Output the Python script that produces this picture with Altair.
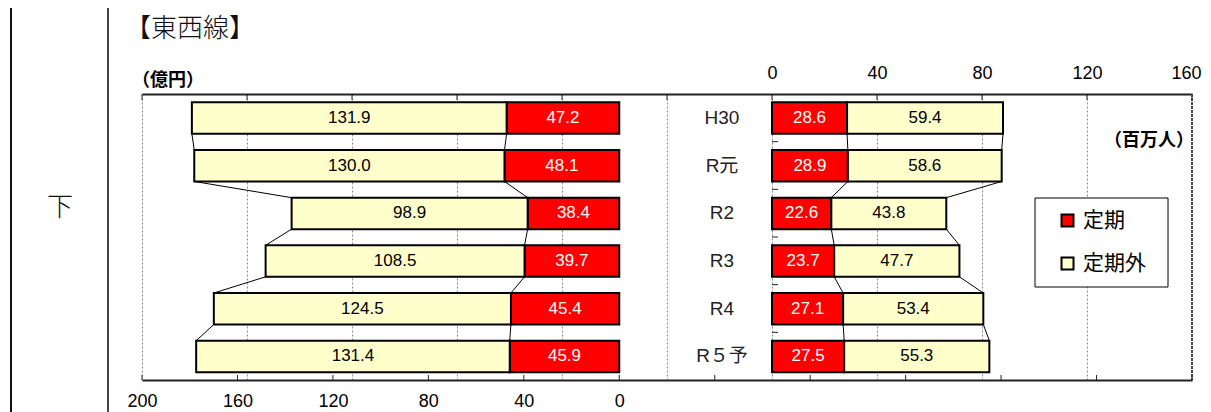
import altair as alt
import pandas as pd

# ---- data ----
years = ["H30", "R元", "R2", "R3", "R4", "R５予"]
rev_teiki = [47.2, 48.1, 38.4, 39.7, 45.4, 45.9]          # 億円 定期
rev_teikigai = [131.9, 130.0, 98.9, 108.5, 124.5, 131.4]  # 億円 定期外
pax_teiki = [28.6, 28.9, 22.6, 23.7, 27.1, 27.5]          # 百万人 定期
pax_teikigai = [59.4, 58.6, 43.8, 47.7, 53.4, 55.3]       # 百万人 定期外
series = ["定期", "定期外"]
colors = ["#FF0000", "#FFFFCC"]
left_ticks = list(range(-240, 201, 40))
right_ticks = list(range(-240, 161, 40))

BT, BB, BM = 0.175, 0.835, 0.505
NUMFONT = "Liberation Sans"
JPFONT = "Noto Sans CJK JP"

W, H = 1050, 286


def bar_df(teiki, gai):
    rows = []
    for i, (a, b) in enumerate(zip(teiki, gai)):
        rows.append(dict(i=i, type=series[0], x0=0, x1=a, xm=a / 2, label=f"{a:.1f}",
                         y0=i + BT, y1=i + BB, ym=i + BM, tc="white"))
        rows.append(dict(i=i, type=series[1], x0=a, x1=a + b, xm=a + b / 2, label=f"{b:.1f}",
                         y0=i + BT, y1=i + BB, ym=i + BM, tc="black"))
    return pd.DataFrame(rows)


def conn_df(teiki, gai):
    rows = []
    for i in range(len(teiki) - 1):
        for k in range(2):
            va = teiki[i] + (gai[i] if k else 0)
            vb = teiki[i + 1] + (gai[i + 1] if k else 0)
            rows.append(dict(xa=va, xb=vb, ya=i + BB, yb=i + 1 + BT))
    return pd.DataFrame(rows)


yscale = alt.Scale(domain=[0, 6], reverse=True, nice=False, zero=False)
cscale = alt.Scale(domain=series, range=colors)
legend = alt.Legend(
    orient="none", legendX=915, legendY=116, title=None, padding=0,
    symbolType="square", symbolSize=144, symbolStrokeColor="black", symbolStrokeWidth=2,
    labelFont=JPFONT, labelFontSize=21, labelColor="black", labelOffset=5, rowPadding=21,
)
label_expr = "datum.value >= 0 ? datum.label : ''"


def panel(teiki, gai, xscale, axis, tick_vals, tick_y0, tick_y1):
    bdf = bar_df(teiki, gai)
    bars = alt.Chart(bdf).mark_rect(stroke="black", strokeWidth=2).encode(
        x=alt.X("x0:Q", scale=xscale, axis=axis), x2="x1:Q",
        y=alt.Y("y0:Q", scale=yscale, axis=None), y2="y1:Q",
        fill=alt.Fill("type:N", scale=cscale, legend=legend),
    )
    text = alt.Chart(bdf).mark_text(font=NUMFONT, fontSize=17, baseline="middle").encode(
        x=alt.X("xm:Q", scale=xscale, axis=axis),
        y=alt.Y("ym:Q", scale=yscale, axis=None),
        text="label:N",
        color=alt.Color("tc:N", scale=None),
    )
    conn = alt.Chart(conn_df(teiki, gai)).mark_rule(color="black", strokeWidth=1).encode(
        x=alt.X("xa:Q", scale=xscale, axis=axis), x2="xb:Q",
        y=alt.Y("ya:Q", scale=yscale, axis=None), y2="yb:Q",
    )
    ticks = alt.Chart(pd.DataFrame({"v": tick_vals})).mark_rule(color="#222", strokeWidth=1).encode(
        x=alt.X("v:Q", scale=xscale, axis=axis),
        y=alt.value(tick_y0), y2=alt.value(tick_y1),
    )
    return [ticks, bars, conn, text]


lscale = alt.Scale(domain=[-240, 200], reverse=True, nice=False, zero=False)
rscale = alt.Scale(domain=[-240, 160], nice=False, zero=False)

laxis = alt.Axis(orient="bottom", values=left_ticks, labelExpr=label_expr, ticks=False, tickSize=0,
                 grid=False, domain=True, domainColor="#222", domainWidth=2, title=None,
                 labelFont=NUMFONT, labelFontSize=18, labelColor="black", labelPadding=12,
                 labelOverlap=False, labelFlush=False)
raxis = alt.Axis(orient="top", values=right_ticks, labelExpr=label_expr, ticks=False, tickSize=0,
                 grid=True, gridColor="#888888", gridDash=[2, 2], gridWidth=1,
                 domain=True, domainColor="#222", domainWidth=2, title=None,
                 labelFont=NUMFONT, labelFontSize=18, labelColor="black", labelPadding=12,
                 labelOverlap=False, labelFlush=True, labelFlushOffset=9)

left_layers = panel(rev_teiki, rev_teikigai, lscale, laxis, left_ticks, H - 5, H)
right_layers = panel(pax_teiki, pax_teikigai, rscale, raxis, right_ticks, 0, 6)

# right chart category axis ticks + labels
vt = alt.Chart(pd.DataFrame({"k": [1, 2, 3, 4, 5], "a": [0] * 5, "b": [2.3] * 5})).mark_rule(
    color="#222", strokeWidth=1).encode(
    x=alt.X("a:Q", scale=rscale, axis=raxis), x2="b:Q",
    y=alt.Y("k:Q", scale=yscale, axis=None),
)
border = alt.Chart(pd.DataFrame({"v": [160]})).mark_rule(color="#444", strokeWidth=2, strokeDash=[3, 1]).encode(
    x=alt.X("v:Q", scale=rscale, axis=raxis), y=alt.value(0), y2=alt.value(H),
)
cats = alt.Chart(pd.DataFrame({"year": years, "ym": [i + BM for i in range(6)]})).mark_text(
    font=f"{NUMFONT}, {JPFONT}", fontSize=19, color="#222", align="center", baseline="middle"
).encode(x=alt.value(580), y=alt.Y("ym:Q", scale=yscale, axis=None), text="year:N")

right_panel = alt.layer(*right_layers, vt, border, cats)
left_panel = alt.layer(*left_layers)

one = pd.DataFrame({"a": [0]})
box = alt.Chart(one).mark_rect(fill="white", stroke="black", strokeWidth=1).encode(
    x=alt.value(893), x2=alt.value(1026), y=alt.value(104), y2=alt.value(193))
vline1 = alt.Chart(one).mark_rule(color="#111", strokeWidth=2).encode(
    x=alt.value(-131), y=alt.value(-90), y2=alt.value(320))
vline2 = alt.Chart(one).mark_rule(color="#444", strokeWidth=2).encode(
    x=alt.value(-34), y=alt.value(-90), y2=alt.value(320))
title = alt.Chart(one).mark_text(font=JPFONT, fontSize=26, fontWeight=300, align="left",
                                 baseline="middle", color="#111").encode(
    x=alt.value(-17), y=alt.value(-65), text=alt.value("【東西線】"))
unit_l = alt.Chart(one).mark_text(font=JPFONT, fontSize=18, fontWeight="bold", align="left",
                                  baseline="middle", color="black").encode(
    x=alt.value(-10), y=alt.value(-13), text=alt.value("（億円）"))
unit_r = alt.Chart(one).mark_text(font=JPFONT, fontSize=18, fontWeight="bold", align="right",
                                  baseline="middle", color="black").encode(
    x=alt.value(1052), y=alt.value(47), text=alt.value("（百万人）"))
shita = alt.Chart(one).mark_text(font=JPFONT, fontSize=26, fontWeight=300, align="center",
                                 baseline="middle", color="#111").encode(
    x=alt.value(-82), y=alt.value(114), text=alt.value("下"))

chart = alt.layer(
    vline1, vline2, right_panel, left_panel, box, title, unit_l, unit_r, shita
).resolve_scale(x="independent").properties(
    width=W, height=H,
    padding={"left": 134, "top": 86, "right": 11, "bottom": 32},
    autosize=alt.AutoSizeParams(type="none"),
).configure_view(stroke="transparent")

chart.save("out.html", embed_options={"renderer": "svg", "actions": False})
